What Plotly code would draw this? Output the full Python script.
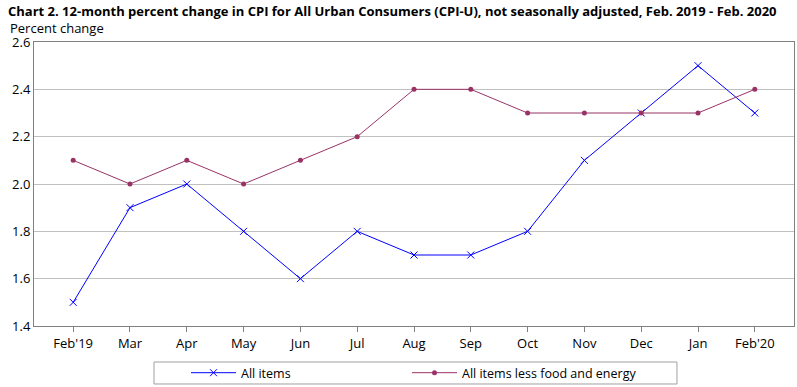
import plotly.graph_objects as go

months = ["Feb'19", "Mar", "Apr", "May", "Jun", "Jul", "Aug", "Sep", "Oct", "Nov", "Dec", "Jan", "Feb'20"]
all_items = [1.5, 1.9, 2.0, 1.8, 1.6, 1.8, 1.7, 1.7, 1.8, 2.1, 2.3, 2.5, 2.3]
core = [2.1, 2.0, 2.1, 2.0, 2.1, 2.2, 2.4, 2.4, 2.3, 2.3, 2.3, 2.3, 2.4]
y_ticks = [1.4, 1.6, 1.8, 2.0, 2.2, 2.4, 2.6]

FONT = "Open Sans"
idx = list(range(len(months)))

fig = go.Figure()
fig.add_trace(go.Scatter(
    x=idx, y=all_items, name="All items", mode="lines+markers", legend="legend",
    line=dict(color="#0000FF", width=1),
    marker=dict(symbol="x-thin", size=7, line=dict(color="#0000FF", width=1), color="#0000FF"),
))
fig.add_trace(go.Scatter(
    x=idx, y=core, name="All items less food and energy", mode="lines+markers", legend="legend2",
    line=dict(color="#993366", width=1),
    marker=dict(symbol="circle", size=5, color="#993366"),
))

legend_common = dict(
    orientation="h", xref="container", yref="container", xanchor="left",
    y=0.036, yanchor="middle", borderwidth=0, bgcolor="rgba(0,0,0,0)",
    font=dict(family=FONT, size=12.5), itemwidth=45,
)

fig.update_layout(
    width=797, height=387,
    margin=dict(l=34, r=3, t=42, b=61, autoexpand=False),
    paper_bgcolor="white", plot_bgcolor="white",
    font=dict(family=FONT, size=13, color="black"),
    showlegend=True,
    title=dict(
        text="<b>Chart 2. 12-month percent change in CPI for All Urban Consumers (CPI-U), not seasonally adjusted, Feb. 2019 - Feb. 2020</b>",
        xref="container", yref="container", x=0.01, xanchor="left", y=0.982, yanchor="top",
        font=dict(family=FONT, size=13, color="black"), pad=dict(t=0, l=0, b=0, r=0),
    ),
    legend=dict(x=186 / 797, **legend_common),
    legend2=dict(x=407 / 797, **legend_common),
    xaxis=dict(
        range=[-0.69, 12.69], tickmode="array", tickvals=idx, ticktext=months,
        showgrid=False, showline=True, linecolor="#808080", linewidth=1, mirror=True,
        ticks="outside", ticklen=5, tickcolor="#808080", zeroline=False,
        tickfont=dict(size=13),
    ),
    yaxis=dict(
        range=[1.4, 2.6], tickmode="array", tickvals=y_ticks,
        ticktext=[f"{v:.1f}" for v in y_ticks],
        showgrid=True, gridcolor="#C0C0C0", gridwidth=1,
        showline=True, linecolor="#808080", linewidth=1, mirror=True,
        ticks="", zeroline=False, tickfont=dict(size=13),
    ),
    shapes=[
        dict(type="rect", xref="paper", yref="paper", x0=0.1579, x1=0.846, y0=-0.2042, y1=-0.1268,
             line=dict(color="#A0A0A0", width=1), fillcolor="rgba(0,0,0,0)"),
    ],
    annotations=[
        dict(text="Percent change", xref="paper", yref="paper", x=-0.0342, y=1.051,
             xanchor="left", yanchor="middle", showarrow=False, font=dict(family=FONT, size=13)),
    ],
)

fig.write_html("out.html", config={"displayModeBar": False},
               post_script="document.body.style.margin='0px';")
